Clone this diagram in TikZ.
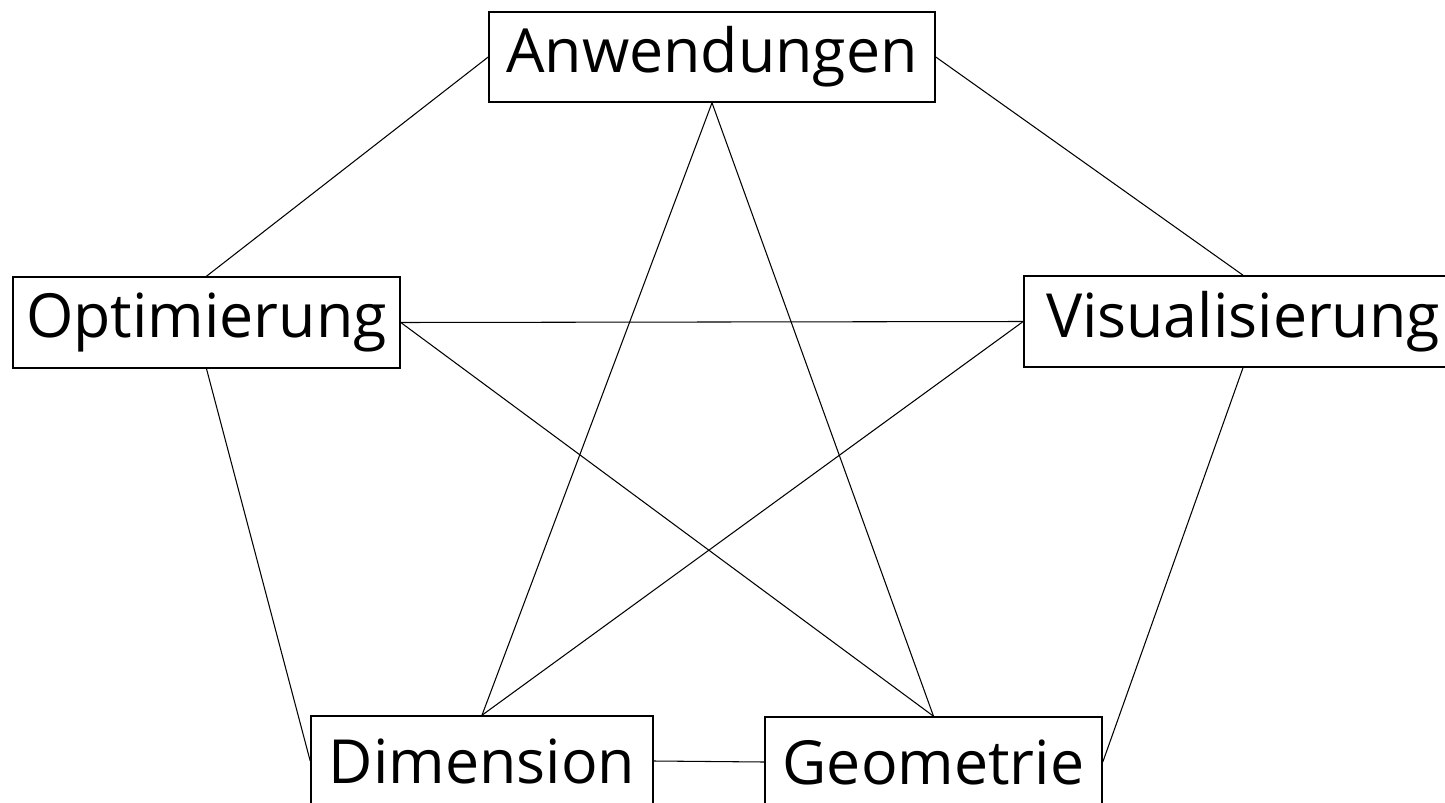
\documentclass[tikz,border=0pt]{standalone}
\usepackage{fontspec}
\setmainfont{Open Sans}
\usepackage{tikz}
\usetikzlibrary{positioning}

\begin{document}
\begin{tikzpicture}[
		x=0.01cm, y=-0.01cm,
		topic/.style={rectangle, draw=black, line width=0.45pt, inner sep=0pt, font=\fontsize{17.3}{19}\selectfont},
		link/.style={draw=black, line width=0.3pt},
		]
		\useasboundingbox (0,0) rectangle (1445,803);
		
		% ---- boxes ----
		\node[topic, minimum width=446*0.01cm, minimum height=90*0.01cm] (anw) at (712,57) {Anwendungen};
		\node[topic, minimum width=387*0.01cm, minimum height=91*0.01cm] (opt) at (206.5,322.5) {Optimierung};
		\node[topic, minimum width=438*0.01cm, minimum height=91*0.01cm] (vis) at (1243,321.5) {Visualisierung};
		\node[topic, minimum width=342*0.01cm, minimum height=90*0.01cm] (dim) at (482,761) {Dimension};
		\node[topic, minimum width=337*0.01cm, minimum height=90*0.01cm] (geo) at (933.5,762) {Geometrie};
		
		% ---- connections ----
		\draw[link] (anw.west) -- (opt.north);
		\draw[link] (anw.east) -- (vis.north);
		\draw[link] (anw.south) -- (dim.north);
		\draw[link] (anw.south) -- (geo.north);
		\draw[link] (opt.east) -- (vis.west);
		\draw[link] (opt.east) -- (geo.north);
		\draw[link] (vis.west) -- (dim.north);
		\draw[link] (opt.south) -- (dim.west);
		\draw[link] (vis.south) -- (geo.east);
		\draw[link] (dim.east) -- (geo.west);
		
	\end{tikzpicture}
\end{document}
